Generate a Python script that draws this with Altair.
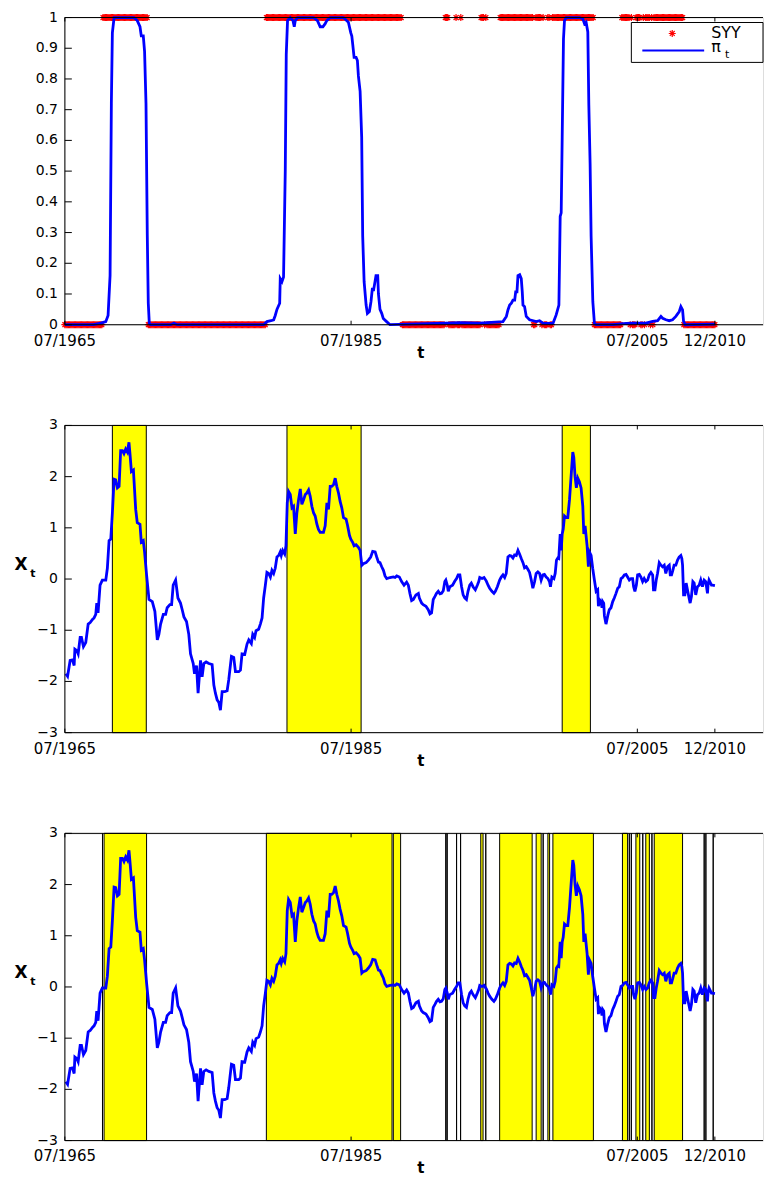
import altair as alt
import pandas as pd

# ---------------- data ----------------
# X_t series (decimal years, value)
x_years = [1965.57, 1965.69, 1965.87, 1966.03, 1966.15, 1966.20, 1966.34, 1966.43, 1966.57, 1966.66,
           1966.80, 1966.96, 1967.13, 1967.27, 1967.43, 1967.54, 1967.66, 1967.73, 1967.82, 1967.96,
           1968.12, 1968.36, 1968.47, 1968.59, 1968.71, 1968.82, 1968.94, 1969.05, 1969.17, 1969.29,
           1969.40, 1969.52, 1969.63, 1969.75, 1969.87, 1969.98, 1970.05, 1970.15, 1970.29, 1970.45,
           1970.56, 1970.75, 1970.84, 1970.98, 1971.07, 1971.21, 1971.38, 1971.61, 1971.79, 1971.96,
           1972.07, 1972.19, 1972.38, 1972.54, 1972.65, 1972.84, 1972.96, 1973.07, 1973.24, 1973.40,
           1973.58, 1973.70, 1973.82, 1974.00, 1974.16, 1974.28, 1974.47, 1974.56, 1974.70, 1974.81,
           1974.98, 1975.09, 1975.21, 1975.37, 1975.56, 1975.79, 1975.91, 1976.02, 1976.14, 1976.26,
           1976.37, 1976.49, 1976.67, 1976.84, 1976.95, 1977.14, 1977.30, 1977.42, 1977.65, 1977.77,
           1977.88, 1978.07, 1978.23, 1978.35, 1978.53, 1978.63, 1978.76, 1978.86, 1979.04, 1979.16,
           1979.28, 1979.39, 1979.51, 1979.62, 1979.74, 1979.86, 1979.97, 1980.09, 1980.20, 1980.32,
           1980.44, 1980.55, 1980.62, 1980.72, 1980.86, 1980.95, 1981.04, 1981.13, 1981.25, 1981.37,
           1981.48, 1981.60, 1981.71, 1981.83, 1981.95, 1982.06, 1982.18, 1982.30, 1982.41, 1982.53,
           1982.64, 1982.76, 1982.88, 1982.99, 1983.11, 1983.22, 1983.34, 1983.57, 1983.69, 1983.81,
           1983.92, 1984.04, 1984.15, 1984.27, 1984.39, 1984.50, 1984.62, 1984.73, 1984.85, 1984.97,
           1985.15, 1985.25, 1985.39, 1985.48, 1985.62, 1985.71, 1985.85, 1986.01, 1986.13, 1986.25,
           1986.36, 1986.55, 1986.71, 1986.87, 1987.01, 1987.18, 1987.29, 1987.41, 1987.52, 1987.64,
           1987.76, 1987.87, 1987.99, 1988.22, 1988.45, 1988.57, 1988.69, 1988.87, 1989.03, 1989.20,
           1989.38, 1989.50, 1989.61, 1989.73, 1989.85, 1990.03, 1990.20, 1990.27, 1990.43, 1990.54,
           1990.73, 1990.89, 1991.01, 1991.12, 1991.24, 1991.36, 1991.47, 1991.59, 1991.71, 1991.82,
           1991.94, 1992.05, 1992.12, 1992.22, 1992.29, 1992.40, 1992.59, 1992.75, 1992.87, 1992.98,
           1993.10, 1993.22, 1993.33, 1993.44, 1993.56, 1993.67, 1993.79, 1993.90, 1994.02, 1994.18,
           1994.32, 1994.42, 1994.49, 1994.65, 1994.79, 1994.95, 1995.07, 1995.18, 1995.34, 1995.48,
           1995.58, 1995.72, 1995.88, 1995.99, 1996.11, 1996.23, 1996.34, 1996.46, 1996.58, 1996.69,
           1996.81, 1996.92, 1997.04, 1997.16, 1997.27, 1997.39, 1997.51, 1997.62, 1997.74, 1997.85,
           1997.97, 1998.09, 1998.20, 1998.32, 1998.43, 1998.55, 1998.67, 1998.78, 1998.90, 1999.01,
           1999.13, 1999.25, 1999.36, 1999.43, 1999.53, 1999.67, 1999.76, 1999.85, 1999.94, 2000.01,
           2000.11, 2000.18, 2000.25, 2000.32, 2000.41, 2000.52, 2000.64, 2000.76, 2000.87, 2000.99,
           2001.06, 2001.15, 2001.24, 2001.34, 2001.45, 2001.57, 2001.69, 2001.76, 2001.85, 2001.99,
           2002.08, 2002.15, 2002.27, 2002.38, 2002.50, 2002.62, 2002.73, 2002.78, 2002.85, 2002.96,
           2003.03, 2003.08, 2003.15, 2003.20, 2003.31, 2003.43, 2003.54, 2003.66, 2003.78, 2003.89,
           2004.01, 2004.13, 2004.24, 2004.36, 2004.47, 2004.59, 2004.71, 2004.82, 2004.94, 2005.06,
           2005.17, 2005.24, 2005.33, 2005.43, 2005.52, 2005.64, 2005.75, 2005.87, 2005.98, 2006.10,
           2006.22, 2006.33, 2006.45, 2006.57, 2006.63, 2006.73, 2006.82, 2006.91, 2007.03, 2007.15,
           2007.26, 2007.38, 2007.49, 2007.61, 2007.73, 2007.80, 2007.89, 2007.98, 2008.07, 2008.19,
           2008.31, 2008.42, 2008.54, 2008.61, 2008.66, 2008.73, 2008.82, 2008.91, 2009.05, 2009.19,
           2009.28, 2009.38, 2009.47, 2009.58, 2009.70, 2009.82, 2009.93, 2010.05, 2010.17, 2010.28,
           2010.40, 2010.44, 2010.51, 2010.58, 2010.68, 2010.75, 2010.92]
x_vals = [-1.85, -1.90, -1.59, -1.58, -1.69, -1.37, -1.40, -1.46, -1.14, -1.14,
          -1.32, -1.24, -0.88, -0.85, -0.79, -0.76, -0.69, -0.47, -0.66, -0.12,
          -0.02, -0.02, 0.21, 0.75, 0.78, 1.29, 1.95, 1.94, 1.78, 1.81,
          2.51, 2.51, 2.45, 2.54, 2.48, 2.67, 2.45, 2.10, 2.13, 1.36,
          1.10, 1.07, 0.72, 0.75, 0.53, 0.08, -0.40, -0.44, -0.63, -1.19,
          -1.08, -0.88, -0.69, -0.69, -0.56, -0.50, -0.50, -0.12, -0.02, -0.37,
          -0.47, -0.60, -0.74, -0.83, -1.08, -1.46, -1.65, -1.85, -1.69, -2.23,
          -1.59, -1.91, -1.65, -1.62, -1.65, -1.67, -2.07, -2.23, -2.36, -2.41,
          -2.56, -2.20, -2.20, -2.18, -1.97, -1.51, -1.53, -1.81, -1.81, -1.78,
          -1.46, -1.47, -1.27, -1.19, -1.26, -1.08, -1.14, -1.01, -0.98, -0.88,
          -0.76, -0.37, -0.12, 0.13, 0.11, 0.04, 0.17, 0.11, 0.21, 0.43,
          0.46, 0.53, 0.46, 0.56, 0.49, 0.65, 1.49, 1.71, 1.65, 1.39,
          1.42, 0.88, 1.29, 1.55, 1.76, 1.46, 1.55, 1.65, 1.68, 1.74,
          1.62, 1.42, 1.29, 1.23, 1.07, 0.97, 0.91, 0.91, 1.04, 1.49,
          1.36, 1.81, 1.81, 1.84, 1.97, 1.81, 1.68, 1.52, 1.39, 1.20,
          1.17, 1.05, 0.85, 0.78, 0.71, 0.65, 0.67, 0.62, 0.56, 0.27,
          0.30, 0.32, 0.37, 0.43, 0.54, 0.53, 0.43, 0.33, 0.32, 0.24,
          0.17, 0.06, 0.01, 0.03, 0.04, 0.03, 0.06, 0.04, -0.05, -0.12,
          -0.06, -0.12, -0.28, -0.42, -0.40, -0.31, -0.28, -0.37, -0.47, -0.50,
          -0.53, -0.60, -0.68, -0.66, -0.40, -0.34, -0.28, -0.24, -0.29, -0.28,
          -0.23, -0.05, -0.02, -0.12, -0.24, -0.15, -0.12, -0.04, 0.01, 0.08,
          0.08, -0.15, -0.31, -0.37, -0.40, -0.24, -0.12, -0.08, -0.15, -0.21,
          -0.12, -0.05, 0.03, 0.01, 0.03, -0.04, -0.12, -0.18, -0.24, -0.28,
          -0.24, -0.15, -0.02, 0.04, 0.08, 0.03, 0.11, 0.43, 0.46, 0.45,
          0.41, 0.47, 0.46, 0.56, 0.49, 0.40, 0.32, 0.22, 0.24, 0.19,
          0.13, -0.02, -0.18, -0.05, 0.11, 0.14, 0.11, -0.02, 0.08, 0.09,
          0.04, 0.01, -0.05, -0.15, 0.04, 0.01, 0.11, 0.37, 0.41, 0.40,
          0.88, 0.56, 0.88, 0.97, 1.23, 1.20, 1.20, 1.55, 2.00, 2.48,
          2.38, 2.00, 1.78, 1.97, 1.90, 1.78, 1.42, 0.88, 1.04, 0.65,
          0.24, 0.53, 0.46, 0.21, -0.02, -0.24, -0.21, -0.53, -0.40, -0.44,
          -0.56, -0.44, -0.47, -0.72, -0.88, -0.72, -0.60, -0.56, -0.44, -0.37,
          -0.28, -0.18, -0.15, 0.01, 0.03, 0.08, 0.09, 0.04, -0.02, 0.01,
          0.01, -0.15, -0.24, -0.12, 0.08, 0.09, 0.04, -0.05, 0.01, -0.05,
          -0.02, 0.08, 0.13, 0.08, -0.21, -0.21, -0.02, 0.11, 0.32, 0.27,
          0.24, 0.27, 0.11, 0.24, 0.27, 0.08, 0.08, 0.17, 0.27, 0.27,
          0.37, 0.43, 0.46, 0.40, 0.27, -0.31, -0.31, -0.08, -0.28, -0.47,
          -0.34, -0.05, -0.08, -0.31, -0.15, -0.12, -0.02, -0.15, -0.02, -0.05,
          -0.28, -0.12, -0.02, -0.06, -0.12, -0.12, -0.13]

# pi_t series (decimal years, probability)
pi_years = [1965.50, 1967.50, 1968.01, 1968.36, 1968.52, 1968.66, 1968.75, 1968.82, 1968.94, 1969.40,
            1970.33, 1970.56, 1970.75, 1970.84, 1970.98, 1971.07, 1971.17, 1971.26, 1971.33, 1971.40,
            1971.49, 1972.89, 1973.12, 1973.35, 1979.39, 1979.62, 1979.90, 1980.09, 1980.20, 1980.32,
            1980.51, 1980.55, 1980.67, 1980.78, 1980.90, 1980.97, 1981.06, 1981.25, 1981.44, 1981.53,
            1981.60, 1981.76, 1982.88, 1983.15, 1983.34, 1983.53, 1983.69, 1983.80, 1984.04, 1984.97,
            1985.31, 1985.48, 1985.55, 1985.62, 1985.71, 1985.85, 1985.94, 1986.01, 1986.13, 1986.24,
            1986.31, 1986.41, 1986.55, 1986.64, 1986.78, 1986.89, 1986.99, 1987.06, 1987.17, 1987.24,
            1987.36, 1987.41, 1987.52, 1987.64, 1987.75, 1987.98, 1988.22, 1992.17, 1993.09, 1994.49,
            1996.11, 1996.35, 1996.46, 1996.58, 1996.70, 1996.81, 1996.93, 1997.00, 1997.09, 1997.16,
            1997.28, 1997.39, 1997.46, 1997.51, 1997.62, 1997.74, 1997.97, 1998.44, 1998.67, 1998.90,
            1999.60, 1999.83, 2000.02, 2000.11, 2000.18, 2000.25, 2000.34, 2000.41, 2000.53, 2001.46,
            2001.69, 2001.81, 2001.92, 2002.04, 2002.11, 2002.20, 2002.27, 2002.39, 2002.50, 2002.62,
            2003.78, 2004.71, 2005.17, 2006.10, 2006.57, 2006.92, 2007.15, 2007.27, 2007.50, 2007.73,
            2007.96, 2008.19, 2008.43, 2008.54, 2008.66, 2008.73, 2008.85, 2010.92]
pi_vals = [0.0, 0.0, 0.005, 0.01, 0.03, 0.16, 0.72, 0.95, 1.0, 1.0,
           1.0, 0.99, 0.97, 0.94, 0.94, 0.89, 0.72, 0.29, 0.07, 0.005,
           0.0, 0.0, 0.005, 0.0, 0.0, 0.01, 0.013, 0.016, 0.03, 0.05,
           0.07, 0.15, 0.14, 0.155, 0.5, 0.88, 0.99, 1.0, 0.99, 0.97,
           0.99, 1.0, 1.0, 0.99, 0.97, 0.97, 0.98, 0.99, 1.0, 1.0,
           0.985, 0.95, 0.94, 0.91, 0.87, 0.87, 0.86, 0.81, 0.76, 0.61,
           0.29, 0.14, 0.064, 0.037, 0.043, 0.075, 0.12, 0.11, 0.14, 0.16,
           0.16, 0.10, 0.05, 0.037, 0.02, 0.01, 0.0, 0.005, 0.007, 0.005,
           0.01, 0.027, 0.048, 0.064, 0.07, 0.08, 0.08, 0.107, 0.107, 0.16,
           0.163, 0.15, 0.107, 0.064, 0.059, 0.027, 0.016, 0.01, 0.013, 0.005,
           0.004, 0.032, 0.064, 0.353, 0.364, 0.61, 0.93, 0.99, 1.0, 1.0,
           0.996, 0.98, 0.985, 0.953, 0.717, 0.525, 0.289, 0.075, 0.005, 0.0,
           0.0, 0.004, 0.005, 0.005, 0.011, 0.013, 0.027, 0.021, 0.016, 0.013,
           0.016, 0.027, 0.043, 0.059, 0.048, 0.011, 0.0, 0.002]

# SYY = 1 blocks (start / end, decimal years); equal start and end = a single month
syy_start = [1968.13, 1968.24, 1979.58, 1988.45, 1992.12, 1992.21, 1992.87, 1993.15, 1994.56, 1994.91,
             1995.88, 1998.43, 1998.92, 1999.25, 1999.60, 2004.46, 2004.94, 2005.08, 2005.40, 2005.88,
             2006.09, 2006.52, 2006.68]
syy_end = [1968.13, 1971.21, 1988.36, 1988.96, 1992.12, 1992.21, 1992.87, 1993.15, 1994.72, 1994.91,
           1998.15, 1998.78, 1998.92, 1999.37, 2002.43, 2004.82, 2004.94, 2005.08, 2005.67, 2005.88,
           2006.34, 2006.52, 2008.66]
extra_lines = [2010.17, 2010.29, 2010.80]

# pi_t > 0.5 blocks (middle panel)
mid_start = [1968.82, 1981.02, 2000.25]
mid_end = [1971.19, 1986.20, 2002.22]

xtick_values = [1965.5, 1985.5, 2005.5, 2010.917]
xtick_labels = ["07/1965", "07/1985", "07/2005", "12/2010"]
top_yticks = [0, 0.1, 0.2, 0.3, 0.4, 0.5, 0.6, 0.7, 0.8, 0.9, 1]
top_ylabels = ["0", "0.1", "0.2", "0.3", "0.4", "0.5", "0.6", "0.7", "0.8", "0.9", "1"]
xt_yticks = [-3, -2, -1, 0, 1, 2, 3]
xt_ylabels = ["\u22123", "\u22122", "\u22121", "0", "1", "2", "3"]
legend_labels = ["SYY", "\u03c0", "t"]
x_title = "t"
y_title = ["X", "t"]

# ---------------- tables ----------------
n_months = 546
months = [1965.5 + i / 12 for i in range(n_months)]
syy = [1 if any(s - 0.045 <= t <= e + 0.045 for s, e in zip(syy_start, syy_end)) else 0
       for t in months]
syy_df = pd.DataFrame({"t": months, "syy": syy})
pi_df = pd.DataFrame({"t": pi_years, "pi": pi_vals})
x_df = pd.DataFrame({"t": x_years, "x": x_vals})
bot_bands = pd.DataFrame({"s": syy_start + extra_lines, "e": syy_end + extra_lines})
mid_bands = pd.DataFrame({"s": mid_start, "e": mid_end})
xtick_df = pd.DataFrame({"v": xtick_values, "lab": xtick_labels})
one = pd.DataFrame({"k": [0]})

# ---------------- styling ----------------
FONT = "DejaVu Sans"
W, H = 700, 308
PX_PER_YEAR = 14.35
XS = alt.Scale(domain=[1965.5, 1965.5 + W / PX_PER_YEAR], nice=False, zero=False)
STAR = "M-1,0L1,0M0,-1L0,1M-0.7,-0.7L0.7,0.7M-0.7,0.7L0.7,-0.7"


def frame_layers(ys, yvals, ylabs):
    ytick_df = pd.DataFrame({"v": yvals, "lab": ylabs})
    yt = alt.Chart(ytick_df).mark_rule(color="black", strokeWidth=1).encode(
        y=alt.Y("v:Q", scale=ys, axis=None), x=alt.value(0), x2=alt.value(7))
    ylab = alt.Chart(ytick_df).mark_text(font=FONT, fontSize=14, color="black", align="right",
                                         baseline="middle").encode(
        y=alt.Y("v:Q", scale=ys, axis=None), x=alt.value(-7), text="lab:N")
    xb = alt.Chart(xtick_df).mark_rule(color="black", strokeWidth=1).encode(
        x=alt.X("v:Q", scale=XS, axis=None), y=alt.value(H), y2=alt.value(H - 4))
    xt = alt.Chart(xtick_df).mark_rule(color="black", strokeWidth=1).encode(
        x=alt.X("v:Q", scale=XS, axis=None), y=alt.value(0), y2=alt.value(4))
    xlab = alt.Chart(xtick_df).mark_text(font=FONT, fontSize=15, color="black", align="center",
                                         baseline="middle").encode(
        x=alt.X("v:Q", scale=XS, axis=None), y=alt.value(H + 16), text="lab:N")
    xttl = alt.Chart(one).mark_text(text=x_title, font=FONT, fontSize=15, fontWeight="bold",
                                    color="black", baseline="middle").encode(
        x=alt.value(357), y=alt.value(H + 28))
    top = alt.Chart(one).mark_rule(color="black", strokeWidth=1).encode(
        x=alt.value(0), x2=alt.value(W), y=alt.value(0))
    left = alt.Chart(one).mark_rule(color="black", strokeWidth=1).encode(
        x=alt.value(0), y=alt.value(0), y2=alt.value(H))
    bottom = alt.Chart(one).mark_rule(color="black", strokeWidth=1).encode(
        x=alt.value(0), x2=alt.value(W), y=alt.value(H))
    return [yt, ylab, xb, xt, xlab, xttl, top, left, bottom]


# ---------------- top panel ----------------
ys_top = alt.Scale(domain=[0, 1], nice=False, zero=False)
stars = alt.Chart(syy_df).mark_point(shape=STAR, filled=False, color="#ff0000", size=49,
                                     strokeWidth=1.2, opacity=1).encode(
    x=alt.X("t:Q", scale=XS, axis=None),
    y=alt.Y("syy:Q", scale=ys_top, axis=None))
pi_line = alt.Chart(pi_df).mark_line(color="#0000ff", strokeWidth=2.8).encode(
    x=alt.X("t:Q", scale=XS, axis=None), y=alt.Y("pi:Q", scale=ys_top, axis=None))

leg_box = alt.Chart(one).mark_rect(fill="white", stroke="black", strokeWidth=1).encode(
    x=alt.value(568), x2=alt.value(700), y=alt.value(5), y2=alt.value(45))
leg_star = alt.Chart(one).mark_point(shape=STAR, filled=False, color="#ff0000", size=49,
                                     strokeWidth=1.2, opacity=1).encode(
    x=alt.value(609), y=alt.value(16))
leg_syy = alt.Chart(one).mark_text(text=legend_labels[0], font=FONT, fontSize=16, align="left",
                                   baseline="middle", color="black").encode(
    x=alt.value(648), y=alt.value(16))
leg_line = alt.Chart(one).mark_rule(color="#0000ff", strokeWidth=2).encode(
    x=alt.value(579), x2=alt.value(641), y=alt.value(33))
leg_pi = alt.Chart(one).mark_text(text=legend_labels[1], font=FONT, fontSize=16, align="left",
                                  baseline="middle", color="black").encode(
    x=alt.value(648), y=alt.value(30))
leg_t = alt.Chart(one).mark_text(text=legend_labels[2], font=FONT, fontSize=11, align="left",
                                 baseline="middle", color="black").encode(
    x=alt.value(662), y=alt.value(38))

top_panel = alt.layer(stars, pi_line, *frame_layers(ys_top, top_yticks, top_ylabels),
                      leg_box, leg_star, leg_syy, leg_line, leg_pi, leg_t).properties(
    width=W, height=H)

# ---------------- middle / bottom panels ----------------
ys_x = alt.Scale(domain=[-3, 3], nice=False, zero=False)


def x_panel(bands_df):
    bands = alt.Chart(bands_df).mark_rect(fill="#ffff00", stroke="black", strokeWidth=1).encode(
        x=alt.X("s:Q", scale=XS, axis=None), x2="e:Q",
        y=alt.value(0), y2=alt.value(H))
    line = alt.Chart(x_df).mark_line(color="#0000ff", strokeWidth=2.8).encode(
        x=alt.X("t:Q", scale=XS, axis=None),
        y=alt.Y("x:Q", scale=ys_x, axis=None))
    ttl_x = alt.Chart(one).mark_text(text=y_title[0], font=FONT, fontSize=17, fontWeight="bold",
                                     color="black", baseline="middle").encode(
        x=alt.value(-44), y=alt.value(140))
    ttl_t = alt.Chart(one).mark_text(text=y_title[1], font=FONT, fontSize=11, fontWeight="bold",
                                     color="black", baseline="middle").encode(
        x=alt.value(-32), y=alt.value(149))
    return alt.layer(bands, line, *frame_layers(ys_x, xt_yticks, xt_ylabels),
                     ttl_x, ttl_t).properties(width=W, height=H)


mid_panel = x_panel(mid_bands)
bot_panel = x_panel(bot_bands)

chart = alt.vconcat(top_panel, mid_panel, bot_panel, spacing=101, bounds="flush").properties(
    padding={"left": 5, "right": 0, "top": 0, "bottom": 0}
).configure_view(stroke=None).configure(background="white")

chart.save("out.html", embed_options={"renderer": "svg", "actions": False})
